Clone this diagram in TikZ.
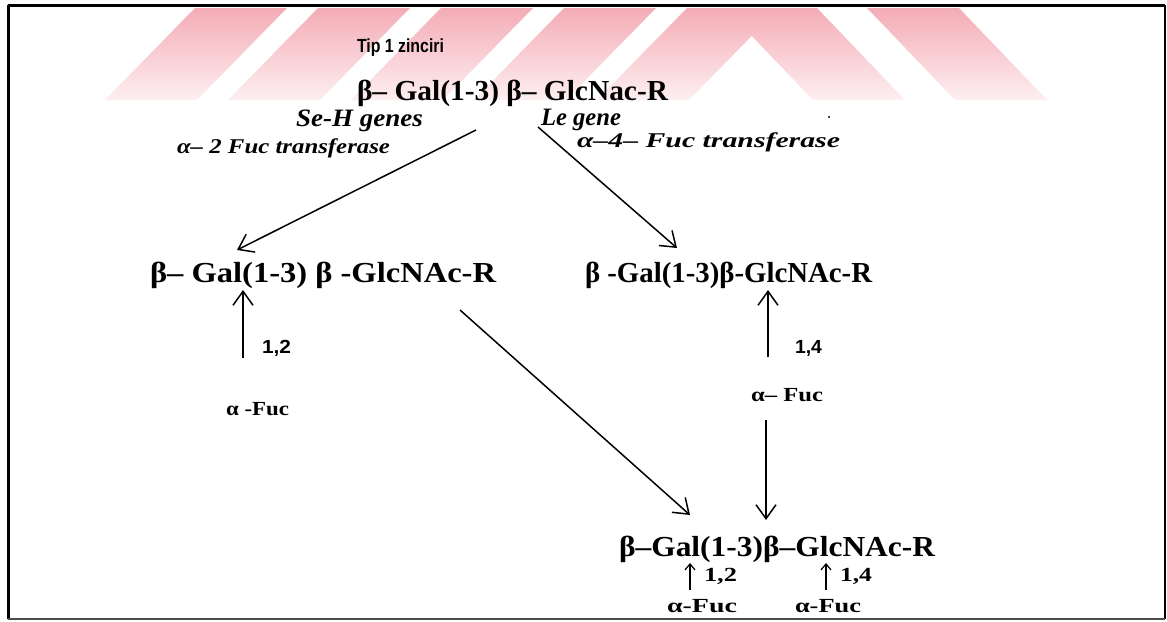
\documentclass[tikz,border=0pt]{standalone}
\usepackage{fontspec}
\usepackage{graphicx}
\usetikzlibrary{arrows.meta}
\setmainfont{Liberation Serif}
\newfontfamily\labsans{Liberation Sans}
\definecolor{wmtop}{RGB}{244,172,181}
\definecolor{wmbot}{RGB}{253,239,241}
% stretch a piece of text to a given width, keeping its height
\newcommand\fitto[2]{\resizebox{#1pt}{\height}{#2}}
\newcommand\chemfont{\bfseries\fontsize{29}{31}\selectfont}
\newcommand\genefont{\bfseries\itshape\fontsize{25}{27}\selectfont}
\newcommand\enzfont{\bfseries\itshape\fontsize{21}{23}\selectfont}
\newcommand\fucfont{\bfseries\fontsize{20}{22}\selectfont}
\newcommand\numfont{\labsans\bfseries\fontsize{19}{21}\selectfont}
\begin{document}
\begin{tikzpicture}[x=1pt,y=-1pt,
  txt/.style={anchor=base west, inner sep=0pt, outer sep=0pt},
  link/.style={line width=1.5pt, -{Straight Barb[length=14pt,width=20pt,line width=1.5pt]}},
  shortlink/.style={line width=1.2pt, -{Straight Barb[length=6pt,width=10pt,line width=1.2pt]}},
  stripe/.style={top color=wmtop, bottom color=wmbot, draw=none}]
\useasboundingbox (0,0) rectangle (1167,621);
\fill[white] (0,0) rectangle (1167,621);

% striped band along the top
\foreach \b in {105,228,351,474,597}
  \shade[stripe] (\b,100) -- (\b+92,100) -- (\b+182,8) -- (\b+90,8) -- cycle;
\foreach \t in {725,867}
  \shade[stripe] (\t,8) -- (\t+92,8) -- (\t+180,100) -- (\t+88,100) -- cycle;

% frame
\draw[line width=3pt] (8,5) -- (1165,5);
\draw[line width=3pt] (8,5) -- (8,619);
\draw[line width=2pt] (1165,5) -- (1165,619);
\draw[line width=1.5pt, black!70] (8,619) -- (1165,619);

% chain type 1 and its two enzymes
\node[txt] (tip) at (357,52) {\fitto{87}{\numfont Tip 1 zinciri}};
\node[txt] (chain) at (357,100) {\fitto{311}{\chemfont β– Gal(1-3) β– GlcNac-R}};
\node[txt] (seh) at (296,126) {\fitto{127}{\genefont Se-H genes}};
\node[txt] (ftwo) at (177,153) {\fitto{213}{\enzfont α– 2 Fuc transferase}};
\node[txt] (le) at (541,125) {\fitto{80}{\genefont Le gene}};
\node[txt] (ffour) at (577,147) {\fitto{263}{\enzfont α–4– Fuc transferase}};
\fill (829,117) circle (1.2pt);

% H antigen (left) and Le a (right)
\node[txt] (hant) at (150,282) {\fitto{346}{\chemfont β– Gal(1-3) β -GlcNAc-R}};
\node[txt] (lea) at (585,282) {\fitto{287}{\chemfont β -Gal(1-3)β-GlcNAc-R}};
\node[txt] (ntwo) at (262,353) {\fitto{29}{\numfont 1,2}};
\node[txt] (fucl) at (226,415) {\fitto{63}{\fucfont α -Fuc}};
\node[txt] (nfour) at (795,353) {\fitto{27}{\numfont 1,4}};
\node[txt] (fucr) at (751,401) {\fitto{72}{\fucfont α– Fuc}};

% Le b
\node[txt] (leb) at (619,556) {\fitto{316}{\chemfont β–Gal(1-3)β–GlcNAc-R}};
\node[txt] (btwo) at (704,581) {\fitto{33}{\fucfont 1,2}};
\node[txt] (bfour) at (840,581) {\fitto{32}{\fucfont 1,4}};
\node[txt] (bfucl) at (667,612) {\fitto{70}{\fucfont α-Fuc}};
\node[txt] (bfucr) at (795,612) {\fitto{66}{\fucfont α-Fuc}};

% connector end points
\coordinate (sehFrom) at (476,130);
\coordinate (sehTo) at (237,250);
\coordinate (leFrom) at (538,127);
\coordinate (leTo) at (677,248);
\coordinate (hFrom) at (460,310);
\coordinate (hTo) at (690,515);
\coordinate (fFrom) at (766,420);
\coordinate (fTo) at (766,520);
\coordinate (lUpFrom) at (243,358);
\coordinate (lUpTo) at (243,290);
\coordinate (rUpFrom) at (768,357);
\coordinate (rUpTo) at (768,290);
\coordinate (bUpL) at (690,590);
\coordinate (bUpLTo) at (690,563);
\coordinate (bUpR) at (826,590);
\coordinate (bUpRTo) at (826,563);

\draw[link] (sehFrom) -- (sehTo);
\draw[link] (leFrom) -- (leTo);
\draw[link] (hFrom) -- (hTo);
\draw[link] (fFrom) -- (fTo);
\draw[link] (lUpFrom) -- (lUpTo);
\draw[link] (rUpFrom) -- (rUpTo);
\draw[shortlink] (bUpL) -- (bUpLTo);
\draw[shortlink] (bUpR) -- (bUpRTo);
\end{tikzpicture}
\end{document}
